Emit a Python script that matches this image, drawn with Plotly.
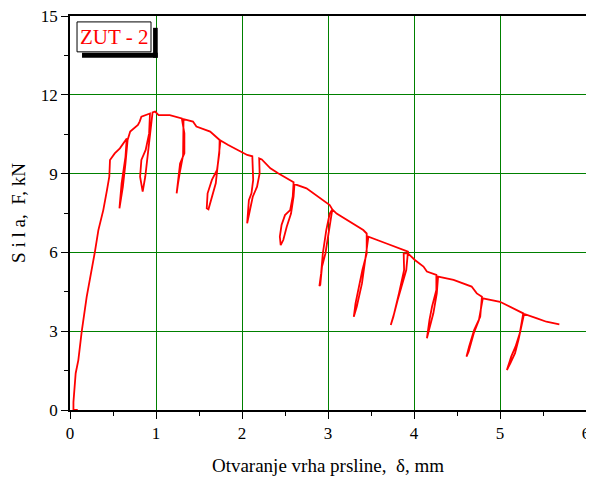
import plotly.graph_objects as go

# Crack tip opening displacement (mm) and force (kN), in path order
delta_mm = [
    0.09, 0.04, 0.04, 0.047, 0.066, 0.097, 0.136, 0.194, 0.24, 0.29, 0.33, 0.387, 0.43, 0.457, 0.465, 0.52, 0.58, 0.64, 0.66,
    0.645, 0.60, 0.575, 0.615, 0.645, 0.67,
    0.70, 0.79, 0.81, 0.83, 0.93,
    0.92, 0.88, 0.83, 0.815, 0.845, 0.875, 0.915, 0.945, 0.96,
    0.99, 1.03, 1.16, 1.30,
    1.33, 1.33, 1.28, 1.26, 1.24, 1.255, 1.28, 1.315, 1.32,
    1.43, 1.47, 1.55, 1.63, 1.74,
    1.736, 1.71, 1.65, 1.60, 1.59, 1.61, 1.655, 1.695, 1.72, 1.75,
    1.84, 2.0, 2.06, 2.12,
    2.13, 2.11, 2.08, 2.06, 2.09, 2.125, 2.175, 2.205, 2.20, 2.23,
    2.33, 2.42, 2.60,
    2.59, 2.56, 2.50, 2.46, 2.44, 2.45, 2.48, 2.52, 2.57, 2.60, 2.61,
    2.75, 2.91, 3.02, 3.05,
    3.04, 3.00, 2.97, 2.93, 2.91, 2.90, 2.92, 2.94, 2.98, 3.02, 3.05,
    3.10, 3.26, 3.41, 3.45,
    3.45, 3.40, 3.36, 3.32, 3.30, 3.335, 3.395, 3.435, 3.47,
    3.68, 3.93,
    3.91, 3.85, 3.81, 3.77, 3.73, 3.76, 3.825, 3.885, 3.88, 3.93,
    4.01, 4.11, 4.15, 4.26,
    4.26, 4.21, 4.18, 4.15, 4.175, 4.225, 4.265, 4.28,
    4.46, 4.67, 4.73, 4.79,
    4.77, 4.70, 4.64, 4.61, 4.635, 4.695, 4.755, 4.80,
    5.0, 5.15, 5.27,
    5.23, 5.18, 5.13, 5.08, 5.12, 5.175, 5.215, 5.255, 5.28,
    5.43, 5.54, 5.69,
]
force_kN = [
    0.0, 0.0, 0.3, 0.64, 1.40, 1.90, 2.98, 4.31, 5.07, 6.03, 6.85, 7.61, 8.37, 8.88, 9.52, 9.77, 9.96, 10.28, 10.34,
    9.64, 8.63, 7.68, 8.50, 9.39, 10.28,
    10.60, 10.85, 10.98, 11.17, 11.29,
    10.53, 9.90, 9.52, 8.88, 8.31, 8.88, 10.02, 10.91, 11.33,
    11.36, 11.23, 11.23, 11.10,
    10.53, 9.77, 9.39, 8.88, 8.25, 8.6, 9.1, 9.7, 11.07,
    10.98, 10.79, 10.68, 10.60, 10.28,
    9.77, 9.14, 8.76, 8.25, 7.68, 7.64, 8.12, 8.63, 9.39, 10.26,
    10.09, 9.81, 9.71, 9.66,
    8.76, 8.25, 7.99, 7.11, 7.61, 8.12, 8.50, 9.01, 9.58, 9.54,
    9.20, 9.01, 8.67,
    8.13, 7.61, 7.42, 7.04, 6.60, 6.28, 6.47, 6.98, 7.48, 8.13, 8.60,
    8.44, 8.06, 7.80, 7.64,
    7.42, 6.60, 5.96, 5.45, 4.76, 4.72, 5.20, 5.96, 6.85, 7.48, 7.64,
    7.48, 7.17, 6.85, 6.72,
    5.96, 5.33, 4.70, 4.06, 3.55, 3.94, 4.82, 5.71, 6.60,
    6.34, 6.03,
    5.33, 4.70, 4.19, 3.68, 3.24, 3.55, 4.44, 5.33, 5.96, 5.96,
    5.71, 5.46, 5.27, 5.14,
    4.57, 3.94, 3.43, 2.73, 3.05, 3.68, 4.44, 5.08,
    4.95, 4.70, 4.44, 4.31,
    3.55, 3.05, 2.41, 2.03, 2.22, 2.92, 3.43, 4.25,
    4.12, 3.87, 3.68,
    2.92, 2.41, 2.03, 1.52, 1.78, 2.16, 2.67, 3.30, 3.66,
    3.49, 3.36, 3.26,
]

series_name = "ZUT - 2"
x_ticks = [0, 1, 2, 3, 4, 5, 6]
y_ticks = [0, 3, 6, 9, 12, 15]

FONT = "Liberation Serif, Times New Roman, serif"

fig = go.Figure()
fig.add_trace(go.Scatter(x=delta_mm, y=force_kN, mode="lines",
                         line=dict(color="#ff0000", width=1.8),
                         name=series_name, showlegend=False))

axis_common = dict(
    showline=True, linecolor="black", linewidth=1.5, mirror=True,
    ticks="outside", ticklen=7, tickwidth=1.2, tickcolor="black",
    showgrid=True, gridcolor="#008000", gridwidth=1,
    zeroline=False, automargin=False, ticklabeloverflow="allow",
    tickfont=dict(family=FONT, size=17, color="black"),
)

fig.update_xaxes(range=[0, 6], tickvals=x_ticks,
                 minor=dict(ticks="outside", ticklen=4, dtick=0.5, tickcolor="black", showgrid=False),
                 title=dict(text="Otvaranje vrha prsline,\u00a0\u00a0δ, mm",
                            font=dict(family=FONT, size=19, color="black"), standoff=17),
                 **axis_common)
fig.update_yaxes(range=[0, 15], tickvals=y_ticks,
                 minor=dict(ticks="outside", ticklen=4, dtick=1.5, tickcolor="black", showgrid=False),
                 title=dict(text="S i l a,\u00a0\u00a0F, kN",
                            font=dict(family=FONT, size=19, color="black"), standoff=18),
                 **axis_common)

# legend-like label box with shadow
fig.add_shape(type="rect", xref="paper", yref="paper", x0=0.0233, x1=0.170, y0=0.894, y1=0.907,
              fillcolor="black", line_width=0, layer="above")
fig.add_shape(type="rect", xref="paper", yref="paper", x0=0.161, x1=0.170, y0=0.894, y1=0.970,
              fillcolor="black", line_width=0, layer="above")
fig.add_shape(type="rect", xref="paper", yref="paper", x0=0.0136, x1=0.157, y0=0.909, y1=0.985,
              fillcolor="white", line=dict(color="black", width=1), layer="above")
fig.add_annotation(xref="paper", yref="paper", x=0.085, y=0.947, text=series_name, showarrow=False,
                   xanchor="center", yanchor="middle",
                   font=dict(family=FONT, size=21, color="#ff0000"))

# the page body adds an 8px offset, so the figure is sized and placed to match the window
fig.update_layout(
    width=600, height=472,
    margin=dict(l=62, r=22, t=8, b=70),
    paper_bgcolor="white", plot_bgcolor="white",
    showlegend=False,
)

fig.write_html("out.html")
